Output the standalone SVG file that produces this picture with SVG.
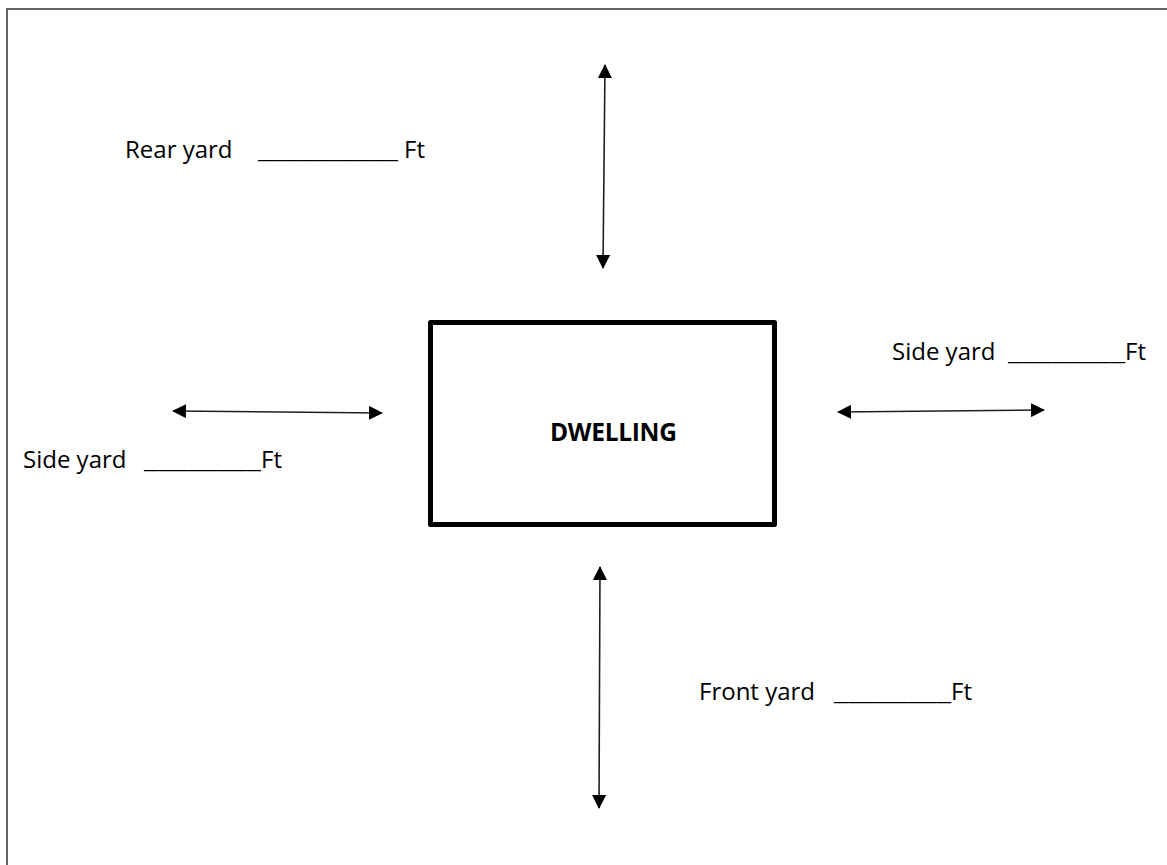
<svg xmlns="http://www.w3.org/2000/svg" width="1167" height="865" viewBox="0 0 1167 865">
<style>
.lbl{font-family:"Open Sans","Noto Sans","Liberation Sans",sans-serif;font-size:24px;fill:#000}
.bold{font-weight:bold;font-size:24.5px}
.conn line{stroke:#202020;stroke-width:1.6;marker-start:url(#ah);marker-end:url(#ah)}
</style>
<defs>
<marker id="ah" viewBox="0 0 14 14" refX="13" refY="7" markerWidth="14" markerHeight="14" markerUnits="userSpaceOnUse" orient="auto-start-reverse">
<path d="M0,0 L14,7 L0,14 Z" fill="#000"/>
</marker>
</defs>
<rect width="1167" height="865" fill="#fff"/>
<rect id="border" x="7" y="9" width="1200" height="900" fill="none" stroke="#404040" stroke-width="1.6"/>
<g id="dwelling">
<rect x="430.5" y="322.5" width="344" height="202" fill="#fff" stroke="#000" stroke-width="5" stroke-linejoin="round"/>
<text class="lbl bold" x="550" y="441" textLength="127">DWELLING</text>
</g>
<g id="rear-label"><text class="lbl" y="158"><tspan x="125">Rear yard</tspan><tspan x="258" textLength="140" lengthAdjust="spacingAndGlyphs">__________</tspan><tspan x="404">Ft</tspan></text></g>
<g id="side-right-label"><text class="lbl" y="360"><tspan x="892">Side yard</tspan><tspan x="1008" textLength="117" lengthAdjust="spacingAndGlyphs">________</tspan><tspan x="1125">Ft</tspan></text></g>
<g id="side-left-label"><text class="lbl" y="468"><tspan x="23">Side yard</tspan><tspan x="144" textLength="117" lengthAdjust="spacingAndGlyphs">________</tspan><tspan x="261">Ft</tspan></text></g>
<g id="front-label"><text class="lbl" y="700"><tspan x="699">Front yard</tspan><tspan x="834" textLength="117" lengthAdjust="spacingAndGlyphs">________</tspan><tspan x="951">Ft</tspan></text></g>
<g id="connectors" class="conn">
<line x1="605" y1="65" x2="603" y2="268"/>
<line x1="600" y1="567" x2="599" y2="808"/>
<line x1="173" y1="411" x2="382" y2="413"/>
<line x1="838" y1="412" x2="1044" y2="410"/>
</g>
</svg>
